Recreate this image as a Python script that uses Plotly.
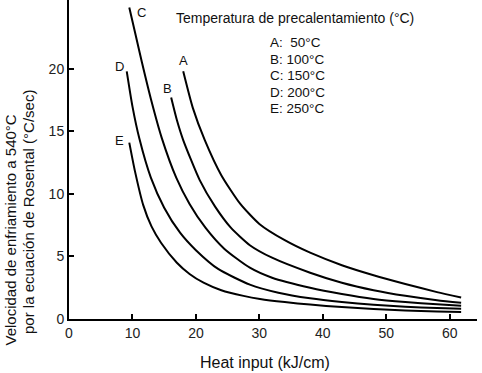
import plotly.graph_objects as go

# Heat input (kJ/cm) and cooling rate (°C/sec)
A_x = [18.0, 19.5, 21.4, 24.0, 27.0, 30.0, 34.0, 38.0, 43.0, 48.0, 53.0, 58.0, 61.8]
A_y = [19.8, 16.9, 14.3, 11.5, 9.2, 7.6, 6.3, 5.3, 4.3, 3.5, 2.8, 2.15, 1.72]
B_x = [16.1, 17.0, 18.0, 20.6, 23.0, 25.5, 28.5, 32.0, 38.0, 43.0, 48.0, 53.0, 58.0, 61.8]
B_y = [17.7, 15.9, 14.3, 11.1, 9.0, 7.3, 5.9, 4.9, 3.7, 2.9, 2.3, 1.85, 1.5, 1.3]
C_x = [9.5, 10.5, 11.5, 13.0, 14.6, 16.9, 19.0, 21.5, 24.5, 28.5, 32.0, 38.0, 43.0, 48.0, 53.0, 58.0, 61.8]
C_y = [24.9, 22.7, 20.5, 17.4, 14.5, 11.3, 9.2, 7.3, 5.6, 4.1, 3.3, 2.5, 2.0, 1.6, 1.35, 1.17, 1.06]
D_x = [9.1, 10.0, 11.1, 12.9, 15.0, 17.5, 20.0, 23.5, 28.5, 33.0, 38.0, 43.0, 48.0, 53.0, 58.0, 61.8]
D_y = [19.8, 17.0, 14.4, 11.3, 8.9, 6.9, 5.5, 4.0, 2.75, 2.1, 1.65, 1.35, 1.13, 0.98, 0.88, 0.82]
E_x = [9.5, 10.4, 11.7, 13.0, 14.5, 17.0, 19.0, 21.2, 24.0, 27.5, 30.1, 34.0, 38.0, 43.0, 48.0, 53.0, 58.0, 61.8]
E_y = [14.1, 11.8, 9.1, 7.4, 6.1, 4.5, 3.6, 2.9, 2.3, 1.85, 1.6, 1.35, 1.15, 0.95, 0.8, 0.68, 0.6, 0.56]

curve_names = ["A", "B", "C", "D", "E"]
label_x = [18.1, 15.6, 11.4, 7.9, 7.9]
label_y = [20.7, 18.4, 24.5, 20.2, 14.3]

legend_title = "Temperatura de precalentamiento (°C)"
legend_lines = ["A:  50°C", "B: 100°C", "C: 150°C", "D: 200°C", "E: 250°C"]

x_ticks = [0, 10, 20, 30, 40, 50, 60]
y_ticks = [0, 5, 10, 15, 20]

FONT = "Liberation Sans, Arial, sans-serif"

fig = go.Figure()
for xs, ys in [(A_x, A_y), (B_x, B_y), (C_x, C_y), (D_x, D_y), (E_x, E_y)]:
    fig.add_trace(go.Scatter(x=xs, y=ys, mode="lines",
                             line=dict(color="black", width=2, shape="spline", smoothing=0.6),
                             showlegend=False, hoverinfo="skip"))

for n, lx, ly in zip(curve_names, label_x, label_y):
    fig.add_annotation(x=lx, y=ly, text=n, showarrow=False,
                       font=dict(family=FONT, size=13, color="#111"))

# legend block (data coordinates)
fig.add_annotation(x=(174 - 68.8) / 6.35, y=(319 - 18.3) / 12.5, text=legend_title, showarrow=False,
                   xanchor="left", yanchor="middle",
                   font=dict(family=FONT, size=14, color="#111"))
for i, t in enumerate(legend_lines):
    py = 42.7 + i * 16.5
    fig.add_annotation(x=(268 - 68.8) / 6.35, y=(319 - py) / 12.5, text=t, showarrow=False,
                       xanchor="left", yanchor="middle",
                       font=dict(family=FONT, size=13.5, color="#111"))

# axis titles
fig.add_annotation(xref="paper", yref="paper", x=(265 - 69) / 408, y=(319 - 362) / 319,
                   text="Heat input (kJ/cm)", showarrow=False, xanchor="center", yanchor="middle",
                   font=dict(family=FONT, size=16, color="#111"))
fig.add_annotation(xref="paper", yref="paper", x=(9.5 - 69) / 408, y=(319 - 230) / 319,
                   text="Velocidad de enfriamiento a 540°C", textangle=-90, showarrow=False,
                   xanchor="center", yanchor="middle",
                   font=dict(family=FONT, size=15, color="#111"))
fig.add_annotation(xref="paper", yref="paper", x=(28 - 69) / 408, y=(319 - 212) / 319,
                   text="por la ecuación de Rosental (°C/sec)", textangle=-90, showarrow=False,
                   xanchor="center", yanchor="middle",
                   font=dict(family=FONT, size=15, color="#111"))

axis_common = dict(showline=True, linewidth=2, linecolor="black", ticks="inside",
                   ticklen=5, tickwidth=2, tickcolor="black", showgrid=False, zeroline=False,
                   tickfont=dict(family=FONT, size=14, color="#222"))
fig.update_xaxes(range=[0, 64.3], tickvals=x_ticks, **axis_common)
fig.update_yaxes(range=[0, 25.5], tickvals=y_ticks, **axis_common)

fig.update_layout(width=482, height=373, margin=dict(l=69, r=5, t=0, b=54),
                  paper_bgcolor="white", plot_bgcolor="white",
                  font=dict(family=FONT))

fig.write_html("out.html", config={"displayModeBar": False},
               post_script="document.body.style.margin='0';document.body.style.overflow='hidden';")
